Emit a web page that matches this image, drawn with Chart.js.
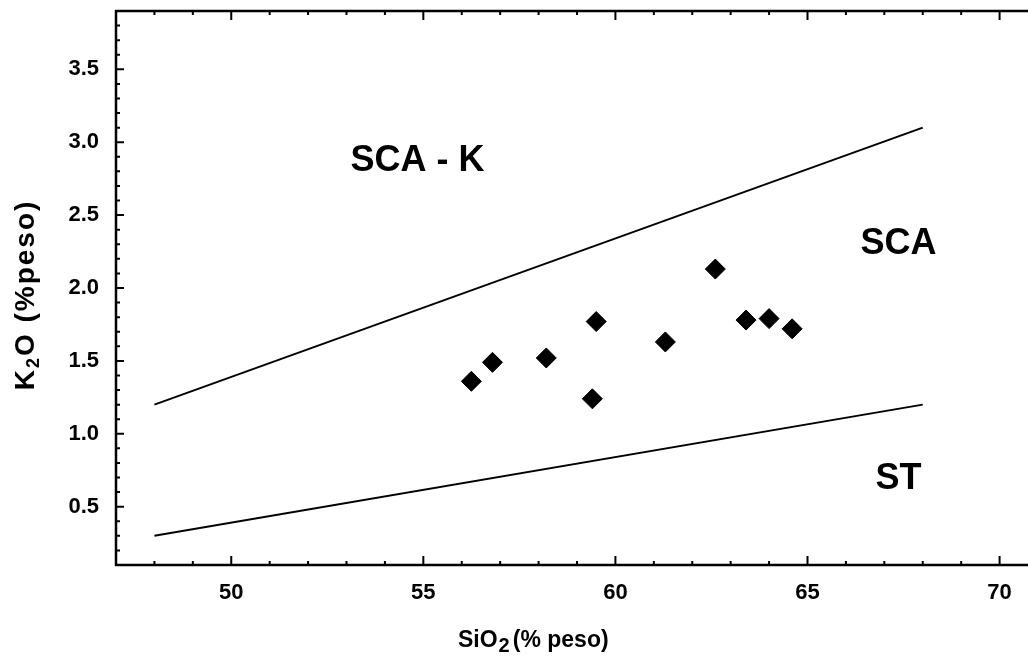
<!DOCTYPE html>
<html>
<head>
<meta charset="utf-8">
<script src="https://cdn.jsdelivr.net/npm/chart.js@4.4.1/dist/chart.umd.min.js"></script>
<style>
  html, body { margin: 0; padding: 0; background: #fff; overflow: hidden; }
  #wrap { position: absolute; left: 0; top: 0; width: 1050px; height: 660px; }
</style>
</head>
<body>
<div id="wrap"><canvas id="k2oChart" width="1050" height="660"></canvas></div>
<script>
// Sample points: SiO2 vs K2O (% peso)
const sio2 = [56.25, 56.8, 58.2, 59.5, 59.4, 61.3, 62.6, 63.4, 64.0, 64.6];
const k2o = [1.36, 1.49, 1.52, 1.77, 1.24, 1.63, 2.13, 1.78, 1.79, 1.72];

// Field boundaries
const boundaryX = [48, 68];
const upperBoundaryY = [1.2, 3.1];
const lowerBoundaryY = [0.3, 1.2];

// Field names and where they sit (data units)
const fieldNames = ['SCA - K', 'SCA', 'ST'];
const fieldX = [54.85, 67.37, 67.37];
const fieldY = [2.87, 2.30, 0.69];

const xMajorLabels = [50, 55, 60, 65, 70];
const yMajorLabels = [0.5, 1.0, 1.5, 2.0, 2.5, 3.0, 3.5];

const FONT = '"Liberation Sans", Arial, Helvetica, sans-serif';

function toPoints(xs, ys) {
    return xs.map((x, i) => ({ x: x, y: ys[i] }));
}

// frame, inward ticks, field names and axis titles
const framePlugin = {
    id: 'frame',
    afterDraw(chart) {
        const ctx = chart.ctx;
        const a = chart.chartArea;
        const xs = chart.scales.x;
        const ys = chart.scales.y;
        ctx.save();
        ctx.strokeStyle = '#000';
        ctx.lineWidth = 2.5;
        ctx.strokeRect(a.left, a.top, a.right - a.left, a.bottom - a.top);

        ctx.lineWidth = 2;
        ctx.beginPath();
        xs.ticks.forEach(t => {
            const px = xs.getPixelForValue(t.value);
            const len = xMajorLabels.includes(Math.round(t.value)) ? 9 : 4;
            ctx.moveTo(px, a.bottom); ctx.lineTo(px, a.bottom - len);
            ctx.moveTo(px, a.top); ctx.lineTo(px, a.top + len);
        });
        ys.ticks.forEach(t => {
            const py = ys.getPixelForValue(t.value);
            const major = Math.round(t.value * 10) % 5 === 0;
            const len = major ? 8 : 4;
            ctx.moveTo(a.left, py); ctx.lineTo(a.left + len, py);
            ctx.moveTo(a.right, py); ctx.lineTo(a.right - len, py);
        });
        ctx.stroke();

        // field names
        ctx.fillStyle = '#000';
        ctx.font = 'bold 36px ' + FONT;
        ctx.textAlign = 'center';
        ctx.textBaseline = 'middle';
        fieldNames.forEach((name, i) => {
            ctx.fillText(name, xs.getPixelForValue(fieldX[i]), ys.getPixelForValue(fieldY[i]));
        });

        // x title: SiO2 (% peso)
        ctx.textAlign = 'left';
        ctx.textBaseline = 'alphabetic';
        let x = 458, base = 647;
        ctx.font = 'bold 23px ' + FONT;
        ctx.fillText('SiO', x, base);
        x += ctx.measureText('SiO').width + 1;
        ctx.font = 'bold 20px ' + FONT;
        ctx.fillText('2', x, base + 5);
        x += ctx.measureText('2').width + 3;
        ctx.font = 'bold 23px ' + FONT;
        ctx.fillText('(% peso)', x, base);

        // y title: K2O (%peso)
        ctx.translate(34, 295);
        ctx.rotate(-Math.PI / 2);
        ctx.letterSpacing = '2px';
        ctx.font = 'bold 28px ' + FONT;
        const w1 = ctx.measureText('K').width;
        const w3 = ctx.measureText('O (%peso)').width;
        ctx.font = 'bold 18px ' + FONT;
        const w2 = ctx.measureText('2').width;
        let y0 = -(w1 + w2 + w3) / 2;
        ctx.font = 'bold 28px ' + FONT;
        ctx.fillText('K', y0, 0);
        y0 += w1;
        ctx.font = 'bold 18px ' + FONT;
        ctx.fillText('2', y0, 5);
        y0 += w2;
        ctx.font = 'bold 28px ' + FONT;
        ctx.fillText('O (%peso)', y0, 0);
        ctx.restore();
    }
};

const ctx = document.getElementById('k2oChart').getContext('2d');

new Chart(ctx, {
    type: 'scatter',
    data: {
        datasets: [
            {
                label: 'Muestras',
                data: toPoints(sio2, k2o),
                pointStyle: 'rectRot',
                pointRadius: 10,
                pointHoverRadius: 10,
                backgroundColor: '#000',
                borderColor: '#000',
                borderWidth: 1
            },
            {
                label: 'SCA-K / SCA',
                data: toPoints(boundaryX, upperBoundaryY),
                showLine: true,
                borderColor: '#000',
                borderWidth: 2,
                pointRadius: 0
            },
            {
                label: 'SCA / ST',
                data: toPoints(boundaryX, lowerBoundaryY),
                showLine: true,
                borderColor: '#000',
                borderWidth: 2,
                pointRadius: 0
            }
        ]
    },
    options: {
        responsive: false,
        animation: false,
        layout: { padding: { top: 10, right: 12, left: 0, bottom: 0 } },
        plugins: {
            legend: { display: false },
            tooltip: { enabled: false }
        },
        scales: {
            x: {
                type: 'linear',
                min: 47,
                max: 71,
                grid: { display: false, drawTicks: false },
                border: { display: false },
                ticks: {
                    stepSize: 1,
                    autoSkip: false,
                    maxRotation: 0,
                    padding: 15,
                    color: '#000',
                    font: { family: FONT, size: 22, weight: 'bold' },
                    callback: function (value) {
                        return xMajorLabels.includes(value) ? String(value) : '';
                    }
                },
                afterFit: function (scale) {
                    scale.height = 95;
                    scale.paddingLeft = 0;
                    scale.paddingRight = 0;
                }
            },
            y: {
                type: 'linear',
                min: 0.1,
                max: 3.9,
                grid: { display: false, drawTicks: false },
                border: { display: false },
                ticks: {
                    stepSize: 0.1,
                    autoSkip: false,
                    padding: 17,
                    color: '#000',
                    font: { family: FONT, size: 22, weight: 'bold' },
                    callback: function (value) {
                        const v = Math.round(value * 10) / 10;
                        return yMajorLabels.includes(v) ? v.toFixed(1) : '';
                    }
                },
                afterFit: function (scale) {
                    scale.width = 116;
                    scale.paddingTop = 0;
                    scale.paddingBottom = 0;
                }
            }
        }
    },
    plugins: [framePlugin]
});
</script>
</body>
</html>
